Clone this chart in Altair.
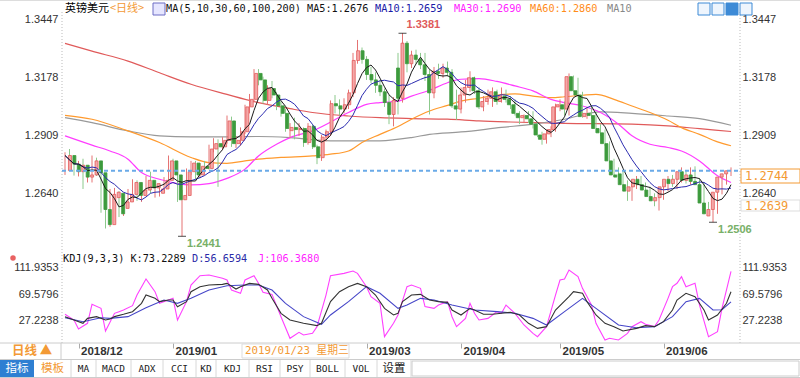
import altair as alt
import pandas as pd

# ---------------- data ----------------
opens = [1.2745,1.2815,1.2775,1.2740,1.2770,1.2715,1.2725,1.2790,1.2735,1.2565,
 1.2495,1.2620,1.2640,1.2570,1.2600,1.2635,1.2690,1.2630,1.2655,1.2700,
 1.2665,1.2640,1.2660,1.2700,1.2790,1.2725,1.2610,1.2630,1.2740,1.2780,
 1.2725,1.2765,1.2755,1.2845,1.2870,1.2855,1.2885,1.2975,1.2870,1.2885,
 1.2925,1.3040,1.3075,1.3195,1.3165,1.3070,1.3125,1.3095,1.3045,1.3010,
 1.2930,1.2945,1.2935,1.2940,1.2875,1.2950,1.2855,1.2805,1.2900,1.2925,
 1.3055,1.3045,1.3030,1.3050,1.3105,1.3255,1.3300,1.3260,1.3190,1.3165,
 1.3140,1.3110,1.3060,1.3005,1.3220,1.3080,1.3335,1.3240,1.3280,1.3260,
 1.3235,1.3190,1.3105,1.3205,1.3195,1.3220,1.3200,1.3045,1.3030,1.3095,
 1.3130,1.3175,1.3115,1.3040,1.3065,1.3080,1.3110,1.3065,1.3090,1.3075,
 1.3050,1.3010,1.2990,1.3000,1.2985,1.2960,1.2910,1.2890,1.2915,1.2935,
 1.3040,1.3050,1.3030,1.3180,1.3115,1.3095,1.2995,1.3010,1.3000,1.2940,
 1.2920,1.2870,1.2790,1.2725,1.2730,1.2680,1.2650,1.2670,1.2705,1.2680,
 1.2655,1.2625,1.2605,1.2620,1.2670,1.2705,1.2685,1.2705,1.2740,1.2700,
 1.2725,1.2695,1.2680,1.2595,1.2535,1.2565,1.2645,1.2715,1.2730]
highs = [1.2830,1.2845,1.2790,1.2790,1.2800,1.2735,1.2815,1.2805,1.2750,1.2600,
 1.2660,1.2665,1.2650,1.2620,1.2660,1.2705,1.2700,1.2665,1.2720,1.2740,
 1.2695,1.2670,1.2715,1.2815,1.2800,1.2735,1.2655,1.2755,1.2790,1.2790,
 1.2780,1.2790,1.2865,1.2895,1.2890,1.2900,1.3000,1.2995,1.2905,1.2945,
 1.3050,1.3100,1.3215,1.3215,1.3180,1.3140,1.3160,1.3110,1.3065,1.3030,
 1.2965,1.2990,1.2965,1.2945,1.2965,1.2960,1.2865,1.2910,1.2935,1.3070,
 1.3095,1.3075,1.3080,1.3120,1.3290,1.3350,1.3315,1.3275,1.3225,1.3200,
 1.3165,1.3125,1.3095,1.3085,1.3290,1.3381,1.3345,1.3300,1.3305,1.3290,
 1.3290,1.3215,1.3225,1.3240,1.3240,1.3250,1.3215,1.3120,1.3130,1.3165,
 1.3205,1.3180,1.3130,1.3090,1.3120,1.3130,1.3120,1.3130,1.3120,1.3090,
 1.3075,1.3020,1.3005,1.3020,1.3020,1.2970,1.2925,1.2935,1.2950,1.3055,
 1.3075,1.3065,1.3195,1.3185,1.3175,1.3110,1.3040,1.3045,1.3015,1.2960,
 1.2935,1.2880,1.2800,1.2760,1.2745,1.2700,1.2690,1.2720,1.2720,1.2690,
 1.2670,1.2640,1.2640,1.2690,1.2720,1.2725,1.2720,1.2760,1.2745,1.2760,
 1.2765,1.2710,1.2690,1.2600,1.2575,1.2660,1.2730,1.2745,1.2760]
lows = [1.2725,1.2760,1.2722,1.2718,1.2660,1.2690,1.2690,1.2720,1.2550,1.2477,
 1.2485,1.2600,1.2530,1.2535,1.2590,1.2600,1.2605,1.2600,1.2640,1.2640,
 1.2620,1.2625,1.2650,1.2695,1.2715,1.2600,1.2441,1.2620,1.2725,1.2705,
 1.2710,1.2740,1.2750,1.2830,1.2670,1.2840,1.2870,1.2855,1.2850,1.2860,
 1.2915,1.3010,1.3060,1.3140,1.3055,1.3050,1.3080,1.3025,1.2995,1.2925,
 1.2895,1.2890,1.2905,1.2855,1.2865,1.2845,1.2775,1.2790,1.2880,1.2905,
 1.3010,1.3000,1.3010,1.3030,1.3085,1.3240,1.3240,1.3165,1.3150,1.3105,
 1.3090,1.3040,1.2960,1.2950,1.3005,1.3060,1.3200,1.3220,1.3240,1.3215,
 1.3160,1.3005,1.3080,1.3170,1.3175,1.3180,1.3035,1.2980,1.3010,1.3060,
 1.3110,1.3100,1.3030,1.3020,1.3050,1.3040,1.3050,1.3060,1.3060,1.3030,
 1.3000,1.2960,1.2965,1.2965,1.2940,1.2900,1.2865,1.2870,1.2900,1.2925,
 1.3020,1.3000,1.3000,1.3110,1.3085,1.2990,1.2985,1.2985,1.2920,1.2905,
 1.2860,1.2780,1.2715,1.2705,1.2665,1.2605,1.2605,1.2660,1.2660,1.2640,
 1.2610,1.2580,1.2560,1.2610,1.2650,1.2670,1.2660,1.2690,1.2685,1.2680,
 1.2680,1.2665,1.2585,1.2535,1.2506,1.2545,1.2635,1.2680,1.2720]
closes = [1.2815,1.2775,1.2740,1.2770,1.2715,1.2725,1.2790,1.2735,1.2565,1.2495,
 1.2635,1.2645,1.2545,1.2600,1.2635,1.2690,1.2630,1.2655,1.2700,1.2665,
 1.2685,1.2660,1.2700,1.2790,1.2725,1.2610,1.2630,1.2740,1.2780,1.2725,
 1.2765,1.2755,1.2845,1.2870,1.2855,1.2885,1.2975,1.2870,1.2885,1.2925,
 1.3040,1.3075,1.3195,1.3165,1.3070,1.3125,1.3095,1.3045,1.3010,1.2940,
 1.2945,1.2935,1.2940,1.2875,1.2950,1.2855,1.2805,1.2900,1.2925,1.3055,
 1.3045,1.3030,1.3050,1.3105,1.3255,1.3300,1.3260,1.3190,1.3165,1.3140,
 1.3110,1.3060,1.3005,1.3070,1.3080,1.3335,1.3240,1.3280,1.3260,1.3235,
 1.3190,1.3105,1.3205,1.3195,1.3220,1.3200,1.3045,1.3030,1.3095,1.3130,
 1.3175,1.3115,1.3040,1.3065,1.3080,1.3110,1.3065,1.3090,1.3075,1.3050,
 1.3010,1.2990,1.3000,1.2985,1.2960,1.2910,1.2890,1.2915,1.2935,1.3040,
 1.3050,1.3030,1.3180,1.3115,1.3095,1.2995,1.3010,1.3000,1.2940,1.2920,
 1.2870,1.2790,1.2725,1.2715,1.2680,1.2650,1.2670,1.2705,1.2680,1.2655,
 1.2625,1.2605,1.2620,1.2670,1.2705,1.2685,1.2705,1.2740,1.2700,1.2725,
 1.2695,1.2680,1.2595,1.2545,1.2565,1.2645,1.2715,1.2730,1.2744]

# month ticks shown on the date axis (2019/02 is hidden under the cursor date box)
month_idx = [3, 24, 67, 88, 110, 133]
month_lbl = ["2018/12", "2019/01", "2019/03", "2019/04", "2019/05", "2019/06"]
price_ticks = [1.3447, 1.3178, 1.2909, 1.2640]
kdj_ticks = [111.9353, 69.5796, 27.2238]

ma30_i = [0,6,10,14,17,21,25,28,32,36,40,43,47,50,55,63,67,70,74,77,81,85,88,92,96,100,104,108,111,115,119,123,126,130,134,137,141,145,148]
ma30_v = [1.2906,1.2863,1.2836,1.2798,1.2736,1.2705,1.2685,1.2679,1.2685,1.2709,1.2752,1.2813,1.2867,1.2898,1.2929,1.3014,1.3052,1.3060,1.3067,1.3090,1.3117,1.3152,1.3168,1.3171,1.3158,1.3137,1.3114,1.3075,1.3060,1.3044,1.3014,1.2960,1.2906,1.2867,1.2852,1.2836,1.2790,1.2721,1.2690]
ma60_i = [0,6,14,21,28,32,36,40,43,48,55,59,63,66,70,74,77,81,85,88,92,96,100,104,108,111,115,118,122,126,130,134,137,141,145,148]
ma60_v = [1.3001,1.2983,1.2929,1.2875,1.2806,1.2782,1.2779,1.2790,1.2798,1.2806,1.2813,1.2821,1.2836,1.2875,1.2913,1.2949,1.2983,1.3021,1.3047,1.3067,1.3080,1.3095,1.3100,1.3090,1.3083,1.3087,1.3094,1.3098,1.3075,1.3044,1.3014,1.2978,1.2944,1.2913,1.2878,1.2860]
ma100_i = [0,6,14,21,28,36,43,50,59,70,77,81,88,97,104,111,119,126,134,141,148]
ma100_v = [1.2990,1.2967,1.2929,1.2906,1.2901,1.2901,1.2903,1.2898,1.2883,1.2883,1.2898,1.2913,1.2924,1.2945,1.2960,1.2983,1.3017,1.3010,1.2998,1.2986,1.2955]
ma200_i = [0,6,14,21,28,36,43,50,55,63,70,77,85,92,99,111,126,134,141,148]
ma200_v = [1.3334,1.3298,1.3252,1.3198,1.3145,1.3098,1.3060,1.3032,1.3014,1.2998,1.2990,1.2986,1.2983,1.2975,1.2970,1.2964,1.2960,1.2952,1.2939,1.2926]

k_i = [0,2,4,5,7,9,10,11,13,15,17,18,20,21,23,24,25,27,28,30,32,35,36,38,39,41,43,45,46,48,50,53,56,57,59,61,63,65,67,69,71,73,74,75,77,79,81,83,85,86,88,90,91,93,95,97,99,101,103,105,107,109,112,113,115,116,118,120,122,124,127,129,131,133,135,136,138,140,142,143,145,147,148]
k_v = [32.7,27.2,21.8,29.9,32.7,27.2,28.9,32.7,36.5,40.8,54.4,67.9,62.5,57.1,59.8,59.8,48.9,57.1,73.4,81.5,84.2,85.3,86.9,77.7,81.5,86.9,85.3,76.1,62.5,38.1,27.2,21.8,18.0,21.8,57.1,73.4,81.5,86.9,81.5,67.9,46.2,35.4,38.1,57.1,67.9,69.0,59.8,57.1,56.0,43.5,35.4,46.2,43.5,36.5,36.5,38.1,39.7,35.4,21.8,13.6,16.4,43.5,65.2,73.4,70.7,57.1,35.4,21.8,16.4,9.3,13.6,18.0,16.4,24.5,43.5,59.8,70.7,65.2,43.5,27.2,35.4,54.4,73.2289]
d_i = [0,4,8,10,14,18,22,25,28,32,36,40,43,46,49,53,57,59,63,67,70,74,76,79,82,86,91,96,100,104,107,111,115,118,123,127,131,135,138,141,144,146,148]
d_v = [31.0,24.5,31.0,29.9,32.7,47.3,59.8,54.4,62.5,76.1,83.1,84.2,84.2,76.1,54.4,32.7,20.2,35.4,57.1,81.5,70.7,46.2,51.6,62.5,59.8,51.6,43.5,40.8,38.1,29.9,19.1,40.8,62.5,46.2,19.1,14.7,16.4,32.7,57.1,62.5,43.5,44.0,56.6594]
j_i = [0,2,3,5,6,8,9,11,12,13,15,16,18,20,21,23,24,25,27,28,30,32,35,36,37,39,40,42,43,44,46,48,50,52,53,55,56,58,59,62,64,65,67,68,70,71,73,74,76,77,79,80,82,83,85,86,87,89,90,91,92,94,96,97,98,100,102,104,105,107,109,110,111,112,114,115,117,118,120,121,123,125,126,128,129,131,132,134,135,136,137,138,140,141,143,145,146,148]
j_v = [36.5,27.2,12.6,21.8,52.7,46.2,9.3,38.1,40.8,43.5,50.6,67.9,94.0,73.4,54.4,59.8,62.5,27.2,57.1,84.2,99.4,100.5,95.1,92.4,76.1,70.7,92.4,99.4,87.0,72.3,69.0,32.6,-2.6,7.1,2.8,5.5,16.4,67.9,99.4,103.2,107.0,103.2,81.5,65.2,54.4,0.1,21.8,35.4,81.5,84.2,78.8,49.0,46.2,51.6,57.1,32.6,16.4,29.9,54.4,38.1,27.2,29.9,40.8,38.1,51.6,38.1,19.1,5.5,0.1,16.4,67.9,92.4,94.0,108.7,97.8,78.8,51.6,21.8,-5.4,-2.6,-5.4,5.5,16.4,24.5,20.2,16.4,27.2,62.5,81.5,87.0,97.8,81.5,87.0,51.6,0.1,8.2,46.2,106.368]

hi_i, hi_p = 75, 1.3381
lo_i = [26, 144]
lo_p = [1.2441, 1.2506]
side_price = 1.2639

header_txt = ["英镑美元", "<日线>", "MA(5,10,30,60,100,200) MA5:1.2676", "MA10:1.2659", "MA30:1.2690", "MA60:1.2860", "MA10"]
kdj_txt = ["KDJ(9,3,3) K:73.2289", "D:56.6594", "J:106.3680"]
toolbar_txt = ["指标", "模板", "MA", "MACD", "ADX", "CCI", "KD", "KDJ", "RSI", "PSY", "BOLL", "VOL", "设置"]

# ---------------- layout ----------------
PL, PT, W, H = 62, 8, 678, 335
X_DOM = [-0.6667, 150.0]
P_DOM = [1.194688, 1.349793]
K_DOM = [-10.24, 535.475]
RX = PL + W  # right edge of plot area

SANS = "Liberation Sans, Arial, sans-serif"
MONO = "DejaVu Sans Mono, Noto Sans CJK SC, monospace"
CJK = "Noto Sans CJK SC, sans-serif"
ORANGE = "#f39a35"

xs = alt.Scale(domain=X_DOM, nice=False, zero=False)
ps = alt.Scale(domain=P_DOM, nice=False, zero=False)
ks = alt.Scale(domain=K_DOM, nice=False, zero=False)

df = pd.DataFrame({"i": list(range(len(closes))), "o": opens, "h": highs, "l": lows, "c": closes})
one = pd.DataFrame({"k": [0]})

def XI(axis=None):
    return alt.X("i:Q", scale=xs, axis=axis)

def text(s, x, y, color="#000", size=11, font=MONO, weight="normal", align="left"):
    return alt.Chart(one).mark_text(text=s, color=color, fontSize=size, font=font,
                                    fontWeight=weight, align=align, baseline="middle").encode(
        x=alt.value(x - PL), y=alt.value(y - PT))

def rect(x0, y0, x1, y1, fill, stroke=None, sw=1):
    mk = dict(fill=fill)
    if stroke:
        mk.update(stroke=stroke, strokeWidth=sw)
    return alt.Chart(one).mark_rect(**mk).encode(
        x=alt.value(x0 - PL), x2=alt.value(x1 - PL), y=alt.value(y0 - PT), y2=alt.value(y1 - PT))

def hrule(x0, x1, y, color, dash=None, w=1):
    mk = dict(color=color, strokeWidth=w)
    if dash:
        mk["strokeDash"] = dash
    return alt.Chart(one).mark_rule(**mk).encode(
        x=alt.value(x0 - PL), x2=alt.value(x1 - PL), y=alt.value(y - PT))

def vrule(x, y0, y1, color, dash=None, w=1):
    mk = dict(color=color, strokeWidth=w)
    if dash:
        mk["strokeDash"] = dash
    return alt.Chart(one).mark_rule(**mk).encode(
        x=alt.value(x - PL), y=alt.value(y0 - PT), y2=alt.value(y1 - PT))

def pline(idx, vals, color, w=1.2, interp="monotone"):
    d = pd.DataFrame({"i": idx, "v": vals})
    return alt.Chart(d).mark_line(color=color, strokeWidth=w, interpolate=interp).encode(
        x=XI(), y=alt.Y("v:Q", scale=ps, axis=None))

def kline(idx, vals, color, w=1.1):
    d = pd.DataFrame({"i": idx, "v": vals})
    return alt.Chart(d).mark_line(color=color, strokeWidth=w, interpolate="linear").encode(
        x=XI(), y=alt.Y("v:Q", scale=ks, axis=None))

expr = "''"
for mi, ml in reversed(list(zip(month_idx, month_lbl))):
    expr = f"datum.value == {mi} ? '{ml}' : ({expr})"

x_axis = alt.Axis(values=month_idx, labelExpr=expr, orient="bottom", domain=False, grid=False,
                  ticks=True, tickSize=5, tickColor="#aaaaaa", labelAlign="left", labelOffset=2,
                  labelPadding=3, labelBaseline="middle", labelFont=SANS, labelFontSize=11.5,
                  labelFontWeight="bold", labelColor="#333333", labelFlush=False,
                  labelOverlap=False, title=None)

def yaxis(vals, orient, pad):
    return alt.Axis(values=vals, orient=orient, format=".4f", domain=False, ticks=False, grid=False,
                    labelFont=SANS, labelFontSize=11, labelColor="#333333", labelPadding=pad,
                    labelOverlap=False, labelFlush=False, title=None)

up = "datum.c >= datum.o"
L = []

# frame lines
L.append(hrule(0, 800, 0.5, "#dddddd"))
L.append(vrule(62, 12, 343, "#bbbbbb", dash=[1, 2]))
L.append(vrule(RX, 12, 343, "#bbbbbb", dash=[1, 2]))
L.append(hrule(0, 800, 343, "#cccccc"))
L.append(hrule(0, 800, 359.5, "#cccccc"))
L.append(hrule(0, 800, 377.5, "#cccccc"))
L.append(vrule(61, 343, 359, "#cccccc"))

# long moving averages
L.append(pline(ma200_i, ma200_v, "#e05a5a"))
L.append(pline(ma100_i, ma100_v, "#999999"))
L.append(pline(ma60_i, ma60_v, "#ff9a2e"))
L.append(pline(ma30_i, ma30_v, "#ff3cff"))

# candles
L.append(alt.Chart(df).mark_rule(strokeWidth=1).encode(
    x=XI(x_axis), y=alt.Y("l:Q", scale=ps, axis=yaxis(price_ticks, "left", 4)), y2="h:Q",
    color=alt.condition(up, alt.value("#e57373"), alt.value("#8cc98c"))))
L.append(alt.Chart(df).mark_bar(size=3, strokeWidth=0.8).encode(
    x=XI(), y=alt.Y("o:Q", scale=ps, axis=yaxis(price_ticks, "right", 2)), y2="c:Q",
    fill=alt.condition(up, alt.value("#f4a8a8"), alt.value("#3d9b3d")),
    stroke=alt.condition(up, alt.value("#e35b5b"), alt.value("#3d9b3d"))))

# short moving averages (computed by Vega-Lite from the closes)
L.append(alt.Chart(df).transform_window(ma10="mean(c)", frame=[-9, 0], sort=[alt.SortField("i")])
         .mark_line(color="#2b2bb0", strokeWidth=1).encode(x=XI(), y=alt.Y("ma10:Q", scale=ps, axis=None)))
L.append(alt.Chart(df).transform_window(ma5="mean(c)", frame=[-4, 0], sort=[alt.SortField("i")])
         .mark_line(color="#1a1a1a", strokeWidth=1).encode(x=XI(), y=alt.Y("ma5:Q", scale=ps, axis=None)))

# last price dashed line
lastdf = pd.DataFrame({"p": [closes[-1]], "t": [f"{closes[-1]:.4f}"]})
L.append(alt.Chart(lastdf).mark_rule(color="#6aaae8", strokeDash=[4, 3], strokeWidth=2).encode(
    y=alt.Y("p:Q", scale=ps, axis=None), x=alt.value(0), x2=alt.value(W)))

# extremes
hidf = pd.DataFrame({"i": [hi_i], "p": [hi_p], "t": [f"{hi_p:.4f}"]})
lodf = pd.DataFrame({"i": lo_i, "p": lo_p, "t": [f"{v:.4f}" for v in lo_p]})
for d in (hidf, lodf):
    L.append(alt.Chart(d).mark_tick(orient="horizontal", size=8, thickness=1, color="#000000").encode(
        x=XI(), y=alt.Y("p:Q", scale=ps, axis=None)))
L.append(alt.Chart(hidf).mark_text(align="left", baseline="middle", dx=4, dy=-8, color="#e05a5a",
                                   fontWeight="bold", fontSize=11, font=SANS).encode(
    x=XI(), y=alt.Y("p:Q", scale=ps, axis=None), text="t:N"))
L.append(alt.Chart(lodf).mark_text(align="left", baseline="middle", dx=5, dy=8, color="#78b068",
                                   fontWeight="bold", fontSize=11, font=SANS).encode(
    x=XI(), y=alt.Y("p:Q", scale=ps, axis=None), text="t:N"))

# KDJ
L.append(kline(j_i, j_v, "#ff40ff"))
L.append(kline(d_i, d_v, "#4646c8"))
dk = pd.DataFrame({"i": k_i, "v": k_v})
L.append(alt.Chart(dk).mark_line(color="#333333", strokeWidth=1.1).encode(
    x=XI(), y=alt.Y("v:Q", scale=ks, axis=yaxis(kdj_ticks, "left", 4))))
L.append(alt.Chart(dk).mark_line(opacity=0).encode(
    x=XI(), y=alt.Y("v:Q", scale=ks, axis=yaxis(kdj_ticks, "right", 2))))

# right-side price boxes
L.append(rect(741, 169, 800, 183, "white", "#f39a35"))
L.append(alt.Chart(lastdf).mark_text(align="left", baseline="middle", dx=0, dy=5, color=ORANGE,
                                     fontSize=12, font=MONO).encode(
    x=alt.value(745 - PL), y=alt.Y("p:Q", scale=ps, axis=None), text="t:N"))
sidedf = pd.DataFrame({"p": [side_price], "t": [f"{side_price:.4f}"]})
L.append(rect(741, 200, 800, 211, "white", "#dddddd"))
L.append(alt.Chart(sidedf).mark_text(align="left", baseline="middle", color=ORANGE,
                                     fontSize=12, font=MONO).encode(
    x=alt.value(745 - PL), y=alt.value(205.5 - PT), text="t:N"))

# header
L.append(text(header_txt[0], 65, 9, "#000000", 11, CJK))
L.append(text(header_txt[1], 110, 9, ORANGE, 11, CJK))
L.append(rect(153, 3, 165, 15, "#e6e6ff", "#6c6cc4"))
L.append(text(header_txt[2], 166, 9, "#111111", 10.2, MONO))
L.append(text(header_txt[3], 375, 9, "#1a1aa8", 10.2, MONO))
L.append(text(header_txt[4], 454, 9, "#ff22ff", 10.2, MONO))
L.append(text(header_txt[5], 530, 9, "#ff8c1a", 10.2, MONO))
L.append(text(header_txt[6], 607, 9, "#888888", 10.2, MONO))
for k, x0 in enumerate([698, 712, 726, 740]):
    L.append(rect(x0, 3, x0 + 12, 15, "#3d8ad6" if k == 2 else "#eef5fd", "#3d8ad6"))

# KDJ header
L.append(alt.Chart(one).mark_point(filled=True, size=30, color="#e02020").encode(
    x=alt.value(13 - PL), y=alt.value(258 - PT)))
L.append(text(kdj_txt[0], 63, 259, "#111111", 10.2, MONO))
L.append(text(kdj_txt[1], 192, 259, "#2a2aa8", 10.2, MONO))
L.append(text(kdj_txt[2], 258, 259, "#ff22ff", 10.2, MONO))

# bottom row: period label and crosshair date box
L.append(text("日线 ▲", 12, 351, ORANGE, 12.5, CJK, "bold"))
L.append(rect(242, 344, 349, 358, "white", "#dddddd"))
L.append(text("2019/01/23 星期三", 245, 351, ORANGE, 10.8, MONO))

# toolbar
edges = [0, 34, 71, 96, 131, 163, 196, 216, 249, 280, 310, 345, 377, 411]
L.append(rect(0, 360, 34, 377, "#2e7fd2"))
L.append(rect(412, 361, 799, 376, "white", "#cccccc"))
for k, lab in enumerate(toolbar_txt):
    cx = (edges[k] + edges[k + 1]) / 2
    col = "#ffffff" if k == 0 else (ORANGE if k == 1 else "#222222")
    if k < 2 or k == len(toolbar_txt) - 1:
        L.append(text(lab, cx, 369, col, 11.5, CJK, align="center"))
    else:
        L.append(text(lab, cx, 369, col, 9.5, MONO, align="center"))
    if k > 0:
        L.append(vrule(edges[k + 1], 360, 377, "#d8d8d8"))

chart = alt.layer(*L).resolve_scale(x="independent", y="independent").properties(
    width=W, height=H,
    padding={"left": PL, "top": PT, "right": 800 - PL - W, "bottom": 378 - PT - H},
    autosize=alt.AutoSizeParams(type="none"),
    background="white",
).configure_view(stroke=None)

chart.save("out.html", embed_options={"renderer": "svg", "actions": False})
